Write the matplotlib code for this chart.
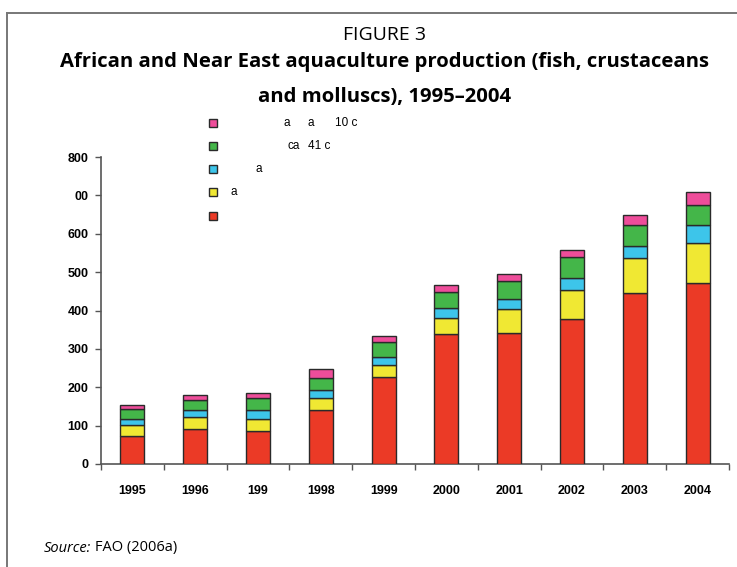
import matplotlib
matplotlib.use("Agg")
import matplotlib.pyplot as plt
from matplotlib.lines import Line2D
from matplotlib.patches import Rectangle
import numpy as np

# data (thousand tonnes, stacked)
years = ["1995", "1996", "199", "1998", "1999", "2000", "2001", "2002", "2003", "2004"]
red = [72, 91, 86, 140, 227, 340, 342, 377, 445, 471]
yellow = [29, 31, 31, 33, 30, 41, 63, 76, 91, 104]
blue = [16, 19, 24, 21, 23, 25, 25, 31, 32, 47]
green = [26, 26, 31, 30, 38, 42, 46, 55, 54, 53]
pink = [12, 13, 14, 23, 16, 18, 18, 18, 27, 34]
ytick_vals = [0, 100, 200, 300, 400, 500, 600, 700, 800]
ytick_labels = ["0", "100", "200", "300", "400", "500", "600", "00", "800"]

colors = {"red": "#EB3A26", "yellow": "#F0E833", "blue": "#3DC5EA",
          "green": "#44B649", "pink": "#EE4D9A"}

W, H = 737, 567
fig = plt.figure(figsize=(W / 100, H / 100), dpi=100)

def fx(px):
    return px / W

def fy(py):
    return 1 - py / H

ax = fig.add_axes([fx(101), fy(464), fx(729) - fx(101), fy(157) - fy(464)])

x = np.arange(len(years))
bottom = np.zeros(len(years))
for key, vals in [("red", red), ("yellow", yellow), ("blue", blue),
                  ("green", green), ("pink", pink)]:
    ax.bar(x, vals, width=0.38, bottom=bottom, color=colors[key],
           edgecolor="#2a2a2a", linewidth=1.0, zorder=3)
    bottom += np.array(vals)

ax.set_xlim(-0.5, len(years) - 0.5)
ax.set_ylim(0, 800)
ax.set_yticks(ytick_vals)
ax.set_yticklabels(ytick_labels, fontsize=9, fontweight="bold",
                   family="Liberation Sans")
ax.set_xticks(np.arange(-0.5, len(years), 1.0))
ax.set_xticklabels([])
ax.set_xticks(x, minor=True)
ax.set_xticklabels(years, minor=True, fontsize=9, fontweight="bold",
                   family="Liberation Sans")
ax.tick_params(axis="x", which="minor", length=0, pad=15)
ax.tick_params(axis="x", which="major", direction="out", length=4,
               color="#555555", width=1)
ax.tick_params(axis="y", direction="out", length=4, color="#555555",
               width=1, pad=5)
for s in ["top", "right"]:
    ax.spines[s].set_visible(False)
for s in ["left", "bottom"]:
    ax.spines[s].set_color("#555555")
    ax.spines[s].set_linewidth(1.2)

# legend (garbled labels as in the source image)
leg_rows = [
    ("pink", 123, [(284, "a"), (308, "a"), (335, "10 c")]),
    ("green", 146, [(287, "ca"), (308, "41 c")]),
    ("blue", 169, [(256, "a")]),
    ("yellow", 192, [(230, "a")]),
    ("red", 216, []),
]
for key, py, texts in leg_rows:
    fig.add_artist(Rectangle((fx(209), fy(py + 4)), fx(8), fy(0) - fy(8),
                             transform=fig.transFigure, facecolor=colors[key],
                             edgecolor="#2a2a2a", linewidth=1.0))
    for px, t in texts:
        fig.text(fx(px), fy(py), t, fontsize=8.5, family="Liberation Sans",
                 va="center", ha="left")

# titles
fig.text(0.522, fy(35), "FIGURE 3", fontsize=14, family="Open Sans",
         ha="center", va="center")
fig.text(0.522, fy(62), "African and Near East aquaculture production (fish, crustaceans",
         fontsize=14.6, family="Open Sans", fontweight="bold", ha="center", va="center")
fig.text(0.522, fy(97), "and molluscs), 1995\u20132004",
         fontsize=14.6, family="Open Sans", fontweight="bold", ha="center", va="center")

# source
renderer = fig.canvas.get_renderer()
src = fig.text(fx(44), fy(548), "Source:", fontsize=10.5, family="Open Sans",
               style="italic", va="center", ha="left")
bb = src.get_window_extent(renderer)
fig.text(fx(bb.x1 + 4), fy(548), "FAO (2006a)", fontsize=10.5, family="Open Sans",
         va="center", ha="left")

# frame lines
fig.add_artist(Line2D([fx(7), 1], [fy(13), fy(13)], color="#777777", linewidth=1.4))
fig.add_artist(Line2D([fx(7), fx(7)], [fy(13), 0], color="#777777", linewidth=1.4))

fig.savefig("out.png", dpi=100)
